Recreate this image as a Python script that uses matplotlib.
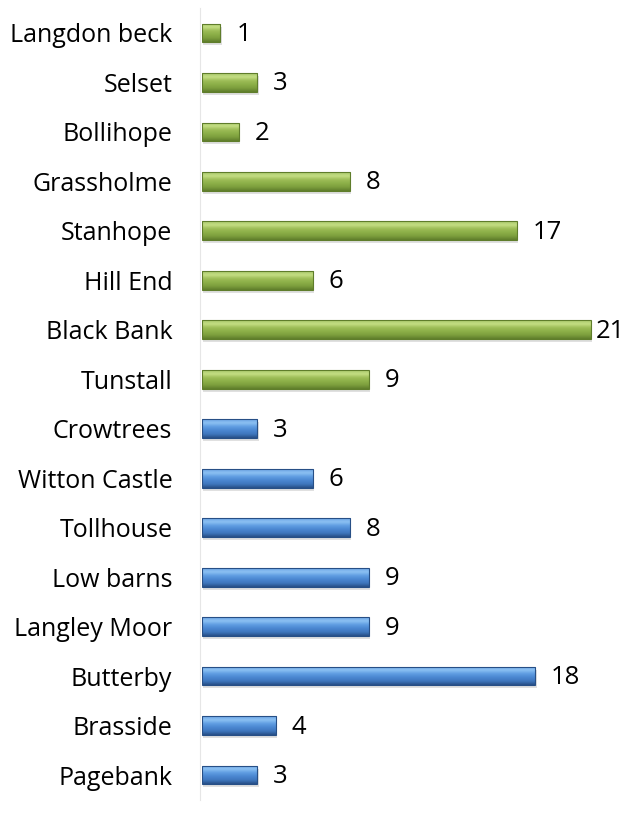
import numpy as np
import matplotlib.pyplot as plt
from matplotlib.colors import LinearSegmentedColormap

# данные
sites = ['Langdon beck', 'Selset', 'Bollihope', 'Grassholme', 'Stanhope',
         'Hill End', 'Black Bank', 'Tunstall', 'Crowtrees', 'Witton Castle',
         'Tollhouse', 'Low barns', 'Langley Moor', 'Butterby', 'Brasside',
         'Pagebank']
counts = [1, 3, 2, 8, 17, 6, 21, 9, 3, 6, 8, 9, 9, 18, 4, 3]
groups = ['g'] * 8 + ['b'] * 8

# градиенты для "объёмных" столбиков (сверху вниз)
grad = {
    'g': LinearSegmentedColormap.from_list('g', ['#a9c86a', '#c4de84', '#9dbd57', '#8caf48', '#7c9e3d', '#5f7d2b']),
    'b': LinearSegmentedColormap.from_list('b', ['#6ea6e6', '#8cc1f2', '#5f9de2', '#4a86d0', '#3f76bd', '#274f86']),
}
edge = {'g': '#5f7d2b', 'b': '#274f86'}

plt.rcParams['font.family'] = ['Open Sans', 'DejaVu Sans']

fig = plt.figure(figsize=(6.32, 8.18), dpi=100)
ax = fig.add_axes([0.3196, 0.0223, 0.6734, 0.9676])

y = np.arange(len(sites))
h = 0.38
xmax = 23

# тень
ax.barh(y + 0.06, counts, height=h, left=0.08, color='#000000', alpha=0.12, zorder=1)

bars = ax.barh(y, counts, height=h, color='none', edgecolor=edge['g'], linewidth=0.8, zorder=3)
for bar, grp, val in zip(bars, groups, counts):
    bar.set_edgecolor(edge[grp])
    x0, y0 = bar.get_x(), bar.get_y()
    w, hh = bar.get_width(), bar.get_height()
    im = ax.imshow(np.linspace(0, 1, 64).reshape(-1, 1), cmap=grad[grp], aspect='auto',
                   extent=[x0, x0 + w, y0 + hh, y0], zorder=2, interpolation='bicubic')
    im.set_clip_path(bar)
    off = min(0.85, xmax - val - 1.7)
    ax.text(val + off, bar.get_y() + hh / 2 + 0.03, str(val), va='center', ha='left',
            fontsize=18.5, color='#000000', zorder=4, clip_on=False)

ax.set_xlim(0, xmax)
ax.set_ylim(len(sites) - 0.5, -0.5)
ax.set_yticks(y)
ax.set_yticklabels(sites)
ax.tick_params(axis='y', length=0, pad=20, labelsize=18)
ax.set_xticks([])
for s in ['top', 'right', 'bottom']:
    ax.spines[s].set_visible(False)
ax.spines['left'].set_color('#e6e6e6')
ax.spines['left'].set_position(('data', -0.1))

plt.savefig('out.png', dpi=100, facecolor='white')
plt.close()
